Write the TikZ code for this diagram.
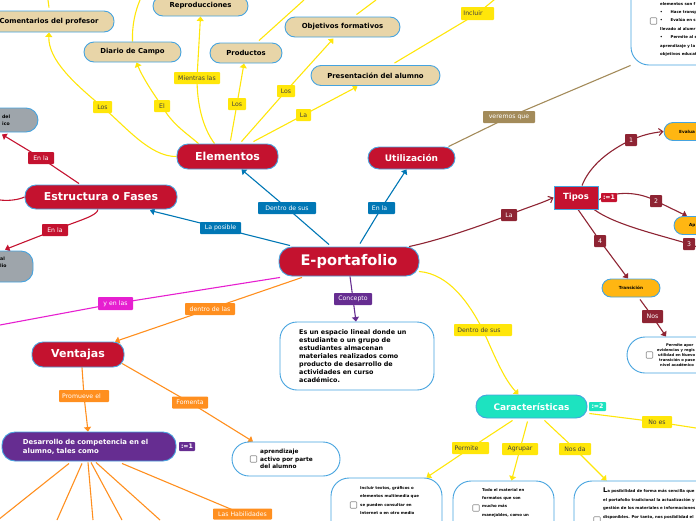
\documentclass[tikz,border=0pt]{standalone}
\usepackage{fontspec}
\setmainfont{DejaVu Sans}
\usetikzlibrary{arrows.meta,backgrounds}
\definecolor{cred}{HTML}{C4122F}
\definecolor{cborder}{HTML}{45A3DF}
\definecolor{cyellow}{HTML}{FFE60A}
\definecolor{cblue}{HTML}{0077B5}
\definecolor{corange}{HTML}{FF8F1F}
\definecolor{cmag}{HTML}{E61FD0}
\definecolor{cpurple}{HTML}{662D91}
\definecolor{ctan}{HTML}{A38B5A}
\definecolor{cdark}{HTML}{8E2433}
\definecolor{cteal}{HTML}{1DE3C0}
\definecolor{csand}{HTML}{E8D5A8}
\definecolor{cgray}{HTML}{9EA5AB}
\definecolor{camber}{HTML}{FFB612}
\tikzset{
 x=1pt,y=-1pt,
 pill/.style={draw=cborder,line width=.9pt,rounded corners=#1,inner sep=0pt},
 pill/.default=10pt,
 topic/.style={pill=11pt,fill=cred,text=white,font=\bfseries\fontsize{11}{12}\selectfont},
 sand/.style={pill=10pt,fill=csand,text=black,font=\bfseries\fontsize{6.9}{8}\selectfont},
 whitebox/.style={pill=#1,fill=white},
 amberbox/.style={pill=9pt,fill=camber,draw=cborder},
 graybox/.style={pill=12pt,fill=cgray},
 size/.style 2 args={minimum width=#1pt,minimum height=#2pt},
 lab/.style={rounded corners=.8pt,inner sep=0pt,font=\fontsize{6.2}{7}\selectfont,minimum height=12pt},
 ylab/.style={lab,fill=cyellow,text=black!75},
 blab/.style={lab,fill=cblue,text=white},
 rlab/.style={lab,fill=cred,text=white},
 olab/.style={lab,fill=corange,text=white},
 dlab/.style={lab,fill=cdark,text=white},
 tagbox/.style={lab,text=white,minimum width=16pt,minimum height=9pt,font=\bfseries\fontsize{6.2}{7}\selectfont},
 tiny/.style={inner sep=0pt,anchor=west,align=left,font=\bfseries\fontsize{3.9}{8.4}\selectfont},
 chk/.style={draw=black!45,fill=white,line width=.6pt,rounded corners=.8pt,minimum size=6.5pt,inner sep=0pt},
 yl/.style={draw=cyellow,line width=1.1pt},
 bl/.style={draw=cblue,line width=1.1pt},
 rl/.style={draw=cred,line width=1.1pt},
 ol/.style={draw=corange,line width=1.1pt},
 dl/.style={draw=cdark,line width=1.1pt},
 tip/.style={-{Triangle[width=7pt,length=4.5pt]}},
 barb/.style={-{Straight Barb[width=7pt,length=4pt]}},
}
\begin{document}
\begin{tikzpicture}
\useasboundingbox (0,0) rectangle (696,520);
% main topics
\node[topic,size={140}{29},pill=13pt,font=\bfseries\fontsize{14.6}{16}\selectfont] (eport) at (349,261.5) {E-portafolio};
\node[topic,size={101}{25}] (elem) at (227.5,156.5) {Elementos};
\node[topic,size={87}{22},font=\bfseries\fontsize{9}{11}\selectfont] (util) at (411.5,158) {Utilización};
\node[topic,size={152}{24},font=\bfseries\fontsize{10.9}{12}\selectfont] (estr) at (101,197) {Estructura o Fases};
\node[topic,size={92}{25},font=\bfseries\fontsize{11}{12}\selectfont] (vent) at (78,354.5) {Ventajas};
\node[pill=13pt,size={174}{29},fill=cpurple,text=white,font=\bfseries\fontsize{6.9}{9}\selectfont,align=left,text width=132pt] (desa) at (89,446.5) {Desarrollo de competencia en el\\alumno, tales como};
\node[pill=11pt,size={111}{23},fill=cteal,text=white,font=\bfseries\fontsize{9}{11}\selectfont] (cara) at (531.5,406.5) {Características};
\node[draw=cborder,line width=.9pt,fill=cred,text=white,font=\bfseries\fontsize{8.5}{10}\selectfont,size={44}{23},inner sep=0pt] (tipos) at (576,197.5) {Tipos};
% list tags
\node[tagbox,fill=cred] (tagA) at (609,197.5) {:=1};
\node[tagbox,fill=cpurple] (tagB) at (187,446.5) {:=1};
\node[tagbox,fill=cteal,minimum width=17pt] (tagC) at (597.5,406.5) {:=2};
% sand nodes
\node[sand,size={130}{21}] (coment) at (49,21.5) {Comentarios del profesor};
\node[sand,size={97}{20}] (diario) at (132.5,52) {Diario de Campo};
\node[sand,size={95}{20}] (repro) at (200.5,6) {Reproducciones};
\node[sand,size={72}{20}] (prod) at (246,53) {Productos};
\node[sand,size={115}{20}] (obj) at (342.5,27) {Objetivos formativos};
\node[sand,size={129}{20}] (pres) at (375.5,75.5) {Presentación del alumno};
% gray nodes
\node[graybox,size={80}{24}] (grayA) at (-2,120) {};
\node[inner sep=0pt,anchor=west,align=left,font=\bfseries\fontsize{4.6}{7}\selectfont] (grayAt) at (2,120) {del\\ico};
\node[graybox,size={80}{31}] (grayB) at (-7,266.5) {};
\node[inner sep=0pt,anchor=west,align=left,font=\bfseries\fontsize{4.6}{7}\selectfont] (grayBt) at (0,262) {al\\lio};
% white boxes
\node[whitebox=17pt,size={154}{68}] (conc) at (357,356) {};
\node[inner sep=0pt,anchor=west,align=left,font=\bfseries\fontsize{6.4}{8}\selectfont] (conct) at (299,356) {Es un espacio lineal donde un\\estudiante o un grupo de\\estudiantes almacenan\\materiales realizados como\\producto de desarrollo de\\actividades en curso\\académico.};
\node[whitebox=17pt,size={108}{34}] (apre) at (286,459) {};
\node[chk] (chkA) at (253.5,459) {};
\node[inner sep=0pt,anchor=west,align=left,font=\bfseries\fontsize{5.8}{7.5}\selectfont] (apret) at (260,459) {aprendizaje\\activo por parte\\del alumno};
\node[whitebox=18pt,size={111}{90}] (incl) at (386.5,523) {};
\node[chk] (chkB) at (353.5,505) {};
\node[tiny,anchor=north west] (inclt) at (360,486) {Incluir textos, gráficos o\\elementos multimedia que\\se pueden consultar en\\Internet o en otro medio};
\node[whitebox=18pt,size={101}{90}] (todo) at (503.5,526) {};
\node[chk] (chkC) at (476,508) {};
\node[tiny,anchor=north west] (todot) at (482,488) {Todo el material en\\formatos que son\\mucho más\\manejables, como un};
\node[whitebox=18pt,size={190}{90}] (posi) at (669,526) {};
\node[chk] (chkD) at (597,520) {};
\node[tiny,anchor=north west] (posit) at (603,488) {{\fontsize{6.5}{8}\selectfont L}a posibilidad de forma más sencilla que\\el portafolio tradicional la actualización y\\gestión de los materiales e informaciones\\disponibles. Por tanto, nos posibilidad el};
\node[whitebox=18pt,size={140}{36}] (perm) at (697,355) {};
\node[chk] (chkE) at (649.5,355) {};
\node[tiny,anchor=west,font=\bfseries\fontsize{3.7}{5.1}\selectfont] (permt) at (657,355) {\hspace*{9pt}Permite apor\\evidencias y regis\\\hspace*{1pt}utilidad en Nuevo\\\hspace*{2pt}transición o pase\\\hspace*{3pt}nivel académico};
\node[whitebox=18pt,size={140}{100}] (topr) at (701,15) {};
\node[chk] (chkF) at (653.5,21) {};
\node[tiny,anchor=north west] (toprt) at (660,2) {elementos son f\\•\hspace*{8pt}Hace transp\\•\hspace*{8pt}Evalúa en s\\llevado al alumr\\•\hspace*{8pt}Permite al e\\aprendizaje y la\\objetivos educat};
% amber nodes
\node[amberbox,size={60}{18}] (eval) at (694,131.5) {};
\node[inner sep=0pt,anchor=west,font=\bfseries\fontsize{4.2}{5}\selectfont] (evalt) at (679,131.5) {Evalua};
\node[amberbox,size={60}{18}] (apli) at (704,225.5) {};
\node[inner sep=0pt,anchor=west,font=\bfseries\fontsize{4.2}{5}\selectfont] (aplit) at (689,225.5) {Ap};
\node[amberbox,size={58}{18},font=\bfseries\fontsize{4.2}{5}\selectfont] (tran) at (631,288) {Transición};
% connector labels
\node[ylab,minimum width=19pt] (l1) at (102.5,107) {Los};
\node[ylab,minimum width=16pt] (l2) at (162,106) {El};
\node[ylab,minimum width=46pt] (l3) at (197,78) {Mientras las};
\node[ylab,minimum width=18pt] (l4) at (237,104) {Los};
\node[ylab,minimum width=18pt] (l5) at (286,91) {Los};
\node[ylab,minimum width=15pt] (l6) at (303.5,115) {La};
\node[ylab,minimum width=33pt,minimum height=13pt] (l7) at (477.5,13.5) {Incluir\hspace*{9pt}};
\node[blab,minimum width=58pt] (l8) at (287,208) {Dentro de sus};
\node[blab,minimum width=41pt] (l9) at (220.5,228) {La posible};
\node[blab,minimum width=27pt] (l10) at (381.5,208) {En la\hspace*{4pt}};
\node[lab,fill=ctan,text=white,minimum width=52pt] (l11) at (509,117) {veremos que};
\node[dlab,minimum width=16pt] (l12) at (509,215) {La};
\node[dlab,minimum width=12pt] (n1) at (631,140) {1};
\node[dlab,minimum width=12pt] (n2) at (656,201) {2};
\node[dlab,minimum width=12pt] (n3) at (689,244) {3};
\node[dlab,minimum width=12pt] (n4) at (600,241) {4};
\node[dlab,minimum width=21pt,minimum height=13pt] (l13) at (652.5,316.5) {Nos};
\node[rlab,minimum width=26pt] (l14) at (41,158) {En la};
\node[rlab,minimum width=26pt] (l15) at (55,230) {En la};
\node[lab,fill=cmag,text=white,minimum width=35pt,minimum height=13pt] (l16) at (115.5,303.5) {y en las};
\node[olab,minimum width=50pt] (l17) at (210,309) {dentro de las};
\node[lab,fill=cpurple,text=white,minimum width=38pt] (l18) at (353,299) {Concepto};
\node[ylab,minimum width=58pt] (l19) at (483,330) {Dentro de sus\hspace*{8pt}};
\node[olab,minimum width=50pt] (l20) at (84,396) {Promueve el\hspace*{5pt}};
\node[olab,minimum width=36pt] (l21) at (190,402.5) {Fomenta};
\node[olab,minimum width=59pt,minimum height=11pt] (l22) at (242.5,514) {Las Habilidades};
\node[ylab,minimum width=30pt] (l23) at (657,422) {No es};
\node[ylab,minimum width=37pt] (l24) at (470.5,448) {Permite\hspace*{8pt}};
\node[ylab,minimum width=36pt] (l25) at (520,449) {Agrupar};
\node[ylab,minimum width=32pt] (l26) at (575,449) {Nos da};
% free ends
\coordinate (o1) at (48,0);
\coordinate (o2) at (140,0);
\coordinate (o3) at (304,0);
\coordinate (o4) at (376,0);
\coordinate (o5) at (500,-5);
\coordinate (o6) at (0,325);
\coordinate (o7) at (696,428);
\coordinate (o8) at (0,200);
\coordinate (o9) at (700,248);
\coordinate (d1) at (-2,520);
\coordinate (d2) at (57,520);
\coordinate (d3) at (93,520);
\coordinate (d4) at (122,520);
\coordinate (d5) at (160,520);
\begin{scope}[on background layer]
\path[yl,tip] (elem.west) .. controls (150,157) and (125,126) .. (l1.center) .. controls (75,84) and (48,60) .. (coment.south);
\path[yl,tip] ([xshift=-29pt]elem.north) .. controls (185,132) and (172,124) .. (l2.center) .. controls (152,92) and (142,76) .. ([xshift=4pt]diario.south);
\path[yl,tip] ([xshift=-13pt]elem.north) .. controls (203,128) and (197,105) .. (l3.center) -- (repro.south);
\path[yl,tip] ([xshift=3pt,yshift=3pt]elem.north) -- (l4.center) -- ([xshift=-2pt]prod.south);
\path[yl,tip] ([xshift=14pt,yshift=2pt]elem.north) -- (l5.center) -- ([xshift=-9pt,yshift=-1pt]obj.south);
\path[yl,tip] ([xshift=26pt,yshift=2pt]elem.north) -- (l6.center) -- ([xshift=-18pt,yshift=-.5pt]pres.south);
\path[yl] ([yshift=3pt]coment.north) -- (o1);
\path[yl] (diario.north) .. controls (132,25) and (135,12) .. (o2);
\path[yl] ([xshift=13pt,yshift=2pt]prod.north) -- (o3);
\path[yl] ([xshift=14pt,yshift=2pt]obj.north) -- (o4);
\path[yl] ([xshift=19pt,yshift=2pt]pres.north) -- (l7.center) -- (o5);
\path[bl,tip] ([xshift=-20pt,yshift=2pt]eport.north) -- (l8.center) -- ([xshift=14pt]elem.south);
\path[bl,tip] ([xshift=-59pt,yshift=1pt]eport.north) -- (l9.center) -- ([xshift=49pt,yshift=-1pt]estr.south);
\path[bl,tip] ([xshift=11pt,yshift=3pt]eport.north) -- (l10.center) -- ([xshift=-5pt]util.south);
\path[draw=ctan,line width=1.1pt] ([xshift=37pt]util.north) -- (l11.center) -- (topr.south west);
\path[dl,barb] ([xshift=60pt]eport.north) .. controls (440,240) and (480,226) .. (l12.center) .. controls (525,208) and (540,204) .. (tipos.west);
\path[dl] ([xshift=6pt]tipos.north) .. controls (590,165) and (610,150) .. (n1.center);
\path[dl,barb] (n1.center) .. controls (640,136) and (650,133) .. (eval.west);
\path[dl] ([xshift=-1pt,yshift=-3pt]tipos.east) .. controls (615,190) and (640,192) .. (n2.center);
\path[dl,tip] (n2.center) -- ([xshift=-17pt]apli.north);
\path[dl] ([xshift=18pt]tipos.south) .. controls (615,225) and (660,235) .. (n3.center) -- (o9);
\path[dl] ([xshift=2pt]tipos.south) -- (n4.center);
\path[dl,tip] (n4.center) -- ([xshift=-3pt]tran.north);
\path[dl,tip] ([xshift=9pt,yshift=-2pt]tran.south) -- (l13.center) -- ([xshift=-31pt]perm.north);
\path[rl,tip] ([xshift=-22pt,yshift=1pt]estr.north) -- (l14.center) -- ([xshift=4pt,yshift=-2pt]grayA.south);
\path[rl,tip] ([xshift=-3pt]estr.south) .. controls (97,216) and (80,220) .. (l15.center) -- ([xshift=12pt,yshift=1pt]grayB.north);
\path[rl] (estr.west) .. controls (18,200) and (8,201) .. (o8);
\path[draw=cmag,line width=1.1pt] ([xshift=-69pt,yshift=-1pt]eport.south) -- (l16.center) -- (o6);
\path[ol,tip] ([xshift=-47pt,yshift=-1pt]eport.south) -- (l17.center) -- ([xshift=37pt]vent.north);
\path[draw=cpurple,line width=1.1pt,tip] ([xshift=1pt]eport.south) -- (l18.center) -- ([xshift=-1pt]conc.north);
\path[yl,tip] ([xshift=70pt,yshift=5pt]eport.south) .. controls (450,274) and (470,305) .. (l19.center) .. controls (497,362) and (505,380) .. ([xshift=-13pt]cara.north);
\path[ol,tip] ([xshift=4pt]vent.south) -- (l20.center) -- ([xshift=-1pt]desa.north);
\path[ol,tip] ([xshift=44pt,yshift=4pt]vent.south) -- (l21.center) -- ([xshift=-33pt]apre.north);
\path[ol] ([xshift=-20pt,yshift=-2pt]desa.south) -- (d1);
\path[ol] ([xshift=-7pt,yshift=-2pt]desa.south) -- (d2);
\path[ol] ([xshift=-1pt,yshift=-1pt]desa.south) -- (d3);
\path[ol] ([xshift=2pt,yshift=-1pt]desa.south) -- (d4);
\path[ol] ([xshift=7pt,yshift=-1pt]desa.south) -- (d5);
\path[ol] ([xshift=33pt,yshift=-2pt]desa.south) -- (l22.center);
\path[yl] ([xshift=2pt,yshift=-7pt]cara.east) -- (l23.center) -- (o7);
\path[yl,tip] ([xshift=-19pt,yshift=-2pt]cara.south) -- (l24.center) -- ([xshift=-16pt]incl.north east);
\path[yl,tip] ([xshift=-4pt,yshift=-3pt]cara.south) -- (l25.center) -- ([xshift=8pt]todo.north);
\path[yl,tip] ([xshift=13pt,yshift=-2pt]cara.south) -- (l26.center) -- ([xshift=33pt]posi.north west);
\end{scope}
\end{tikzpicture}
\end{document}
